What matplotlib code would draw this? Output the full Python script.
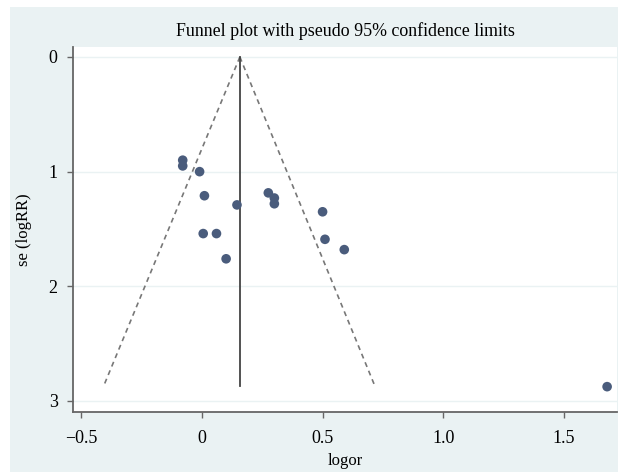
import matplotlib
matplotlib.use("Agg")
import matplotlib.pyplot as plt
from matplotlib.patches import Rectangle

# Study estimates
logor = [-0.08, -0.08, -0.01, 0.01, 0.145, 0.005, 0.06, 0.10,
         0.275, 0.30, 0.30, 0.50, 0.51, 0.59, 1.68]
se_logrr = [0.90, 0.95, 1.00, 1.21, 1.29, 1.54, 1.54, 1.76,
            1.185, 1.23, 1.28, 1.35, 1.59, 1.68, 2.875]

# Pooled estimate and pseudo confidence limits
pooled = 0.157
se_max = 2.87
lower_end = -0.408
upper_end = 0.717

xticks = [-0.5, 0, 0.5, 1.0, 1.5]
xticklabels = ["\u22120.5", "0", "0.5", "1.0", "1.5"]
yticks = [0, 1, 2, 3]

plt.rcParams['font.family'] = ['Liberation Serif', 'DejaVu Serif']

fig = plt.figure(figsize=(6.31, 4.72), dpi=100)
fig.patch.set_facecolor('white')
bg = '#eaf2f3'
fig.patches.append(Rectangle((10/631, 0), 608/631, 465/472, transform=fig.transFigure,
                             facecolor=bg, edgecolor='none', zorder=-10))

ax = fig.add_axes([73/631, 60/472, 544/631, 365/472])
ax.set_facecolor('white')

ax.set_xlim(-0.535, 1.721)
ax.set_ylim(3.096, -0.087)

for yv in yticks:
    ax.axhline(yv, color=bg, lw=1.0, zorder=0)

ax.plot([pooled, lower_end], [0, se_max], ls=(0, (3, 2.5)), color='#777777', lw=1.2, zorder=2)
ax.plot([pooled, upper_end], [0, se_max], ls=(0, (3, 2.5)), color='#777777', lw=1.2, zorder=2)
ax.plot([pooled, pooled], [0, se_max], color='#444444', lw=1.3, zorder=2)

ax.scatter(logor, se_logrr, s=48, color='#4a5c7c', edgecolors='none', zorder=3)

ax.set_xticks(xticks)
ax.set_xticklabels(xticklabels)
ax.set_yticks(yticks)
ax.tick_params(axis='both', labelsize=13, colors='#666666', labelcolor='black',
               length=4, width=1, direction='out')
ax.tick_params(axis='x', pad=9)
ax.tick_params(axis='y', pad=7)

for s in ['top', 'right']:
    ax.spines[s].set_visible(False)
for s in ['left', 'bottom']:
    ax.spines[s].set_color('#666666')
    ax.spines[s].set_linewidth(1.3)

ax.set_xlabel('logor', fontsize=12, labelpad=4)
ax.set_ylabel('se (logRR)', fontsize=12, labelpad=12)
ax.set_title('Funnel plot with pseudo 95% confidence limits', fontsize=12.9, pad=8)

fig.savefig('out.png', dpi=100, facecolor=fig.get_facecolor())
